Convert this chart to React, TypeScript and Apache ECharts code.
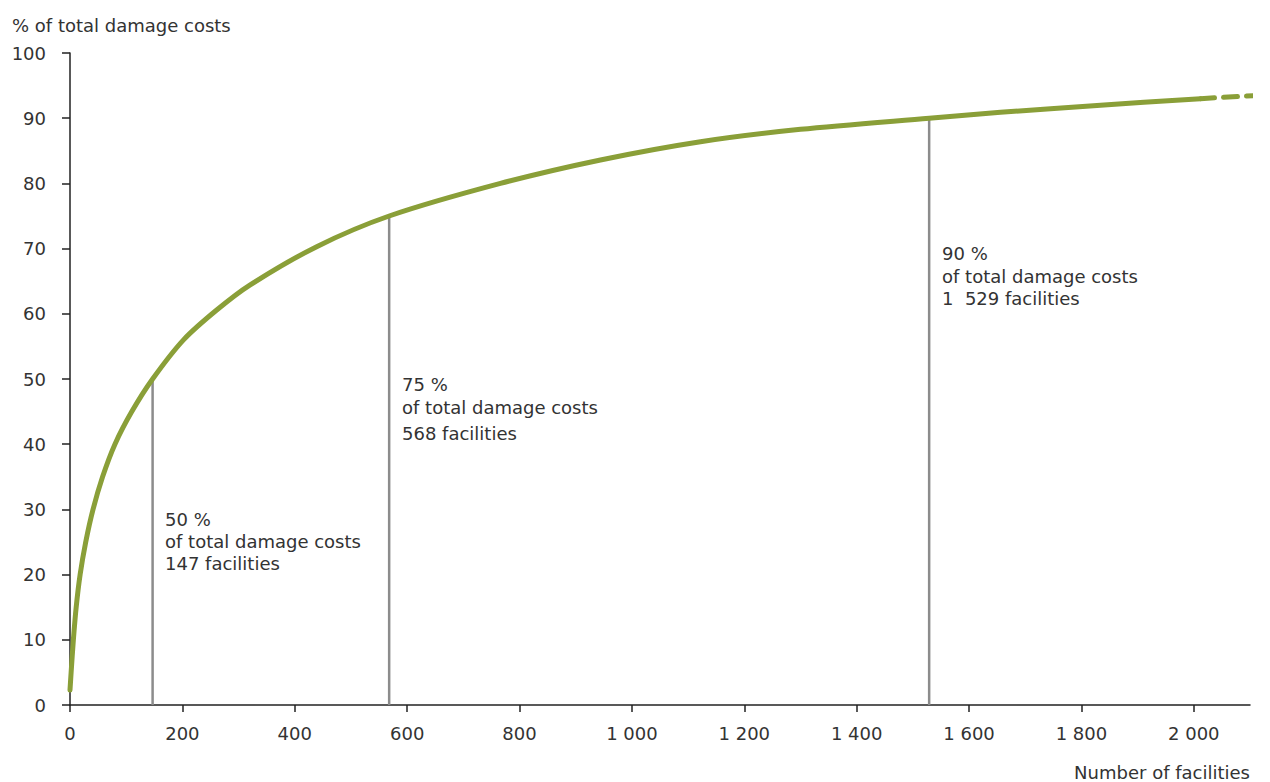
import React, { useEffect, useRef } from "react";
import * as echarts from "echarts";

const curveData: [number, number][] = [
  [0, 2.3], [2, 5], [6, 10], [11, 15], [18, 20], [28, 25], [41, 30], [58, 35],
  [80, 40], [110, 45], [147, 50], [202, 56], [260, 60.5], [320, 64.4],
  [439, 70.3], [568, 75], [766, 80], [944, 83.6], [1122, 86.4], [1300, 88.3],
  [1529, 90], [1656, 90.9], [1834, 92], [2012, 93],
];
const dashedData: [number, number][] = [[2012, 93], [2137, 93.6]];

const thresholds = [
  { facilities: 147, pct: 50, lines: ["50 %", "of total damage costs", "147 facilities"] },
  { facilities: 568, pct: 75, lines: ["75 %", "of total damage costs", "568 facilities"] },
  { facilities: 1529, pct: 90, lines: ["90 %", "of total damage costs", "1  529 facilities"] },
];
const xTicks = [0, 200, 400, 600, 800, 1000, 1200, 1400, 1600, 1800, 2000];

const FONT = "'DejaVu Sans', Verdana, sans-serif";
const FS = 18;
const GREEN = "#8a9f38";
const TEXT = "#333333";

const fmt = (v: number) => {
  const s = String(Math.round(v));
  return s.length > 3 ? s.slice(0, s.length - 3) + " " + s.slice(-3) : s;
};

const labelPos = [
  { left: 165, ys: [519, 541, 563] },
  { left: 402, ys: [384, 407, 433] },
  { left: 942, ys: [253, 276, 298] },
];

export default function App() {
  const ref = useRef<HTMLDivElement>(null);
  useEffect(() => {
    if (!ref.current) return;
    const chart = echarts.init(ref.current, null, { renderer: "svg" });
    const graphics: any[] = [
      {
        type: "text", x: 12, y: 25,
        style: { text: "% of total damage costs", font: `${FS}px ${FONT}`, fill: TEXT, textVerticalAlign: "middle" },
      },
      {
        type: "text", x: 1250, y: 772,
        style: {
          text: "Number of facilities", font: `${FS}px ${FONT}`, fill: TEXT,
          textAlign: "right", textVerticalAlign: "middle",
        },
      },
    ];
    thresholds.forEach((t, i) => {
      t.lines.forEach((ln, j) => {
        graphics.push({
          type: "text", x: labelPos[i].left, y: labelPos[i].ys[j],
          style: { text: ln, font: `${FS}px ${FONT}`, fill: TEXT, textVerticalAlign: "middle" },
        });
      });
    });
    chart.setOption({
      animation: false,
      backgroundColor: "#ffffff",
      grid: { left: 70, right: 20, top: 53, bottom: 77 },
      xAxis: {
        type: "value", min: 0, max: 2100,
        axisLine: { lineStyle: { color: "#222", width: 1.5 } },
        axisTick: { customValues: xTicks, length: 7, lineStyle: { color: "#222", width: 1.5 } },
        axisLabel: {
          customValues: xTicks, formatter: fmt, color: TEXT, fontFamily: FONT, fontSize: FS, margin: 19,
        },
        splitLine: { show: false },
      },
      yAxis: {
        type: "value", min: 0, max: 100, interval: 10,
        axisLine: { show: true, lineStyle: { color: "#222", width: 1.5 } },
        axisTick: { show: true, length: 8, lineStyle: { color: "#222", width: 1.5 } },
        axisLabel: { color: TEXT, fontFamily: FONT, fontSize: FS, margin: 24 },
        splitLine: { show: false },
      },
      series: [
        ...thresholds.map((t) => ({
          type: "line",
          data: [[t.facilities, 0], [t.facilities, t.pct]],
          symbol: "none",
          lineStyle: { color: "#8c8c8c", width: 2.5 },
          z: 1,
        })),
        {
          type: "line", data: curveData, symbol: "none", smooth: 0.3,
          lineStyle: { color: GREEN, width: 5, cap: "round", join: "round" }, z: 3,
        },
        {
          type: "line", data: dashedData, symbol: "none", clip: false,
          lineStyle: { color: GREEN, width: 5, type: [14, 9], cap: "round" }, z: 3,
        },
      ],
      graphic: graphics,
    });
    return () => chart.dispose();
  }, []);
  return (
    <div
      ref={ref}
      style={{ position: "fixed", left: 0, top: 0, width: 1270, height: 782 }}
    />
  );
}
